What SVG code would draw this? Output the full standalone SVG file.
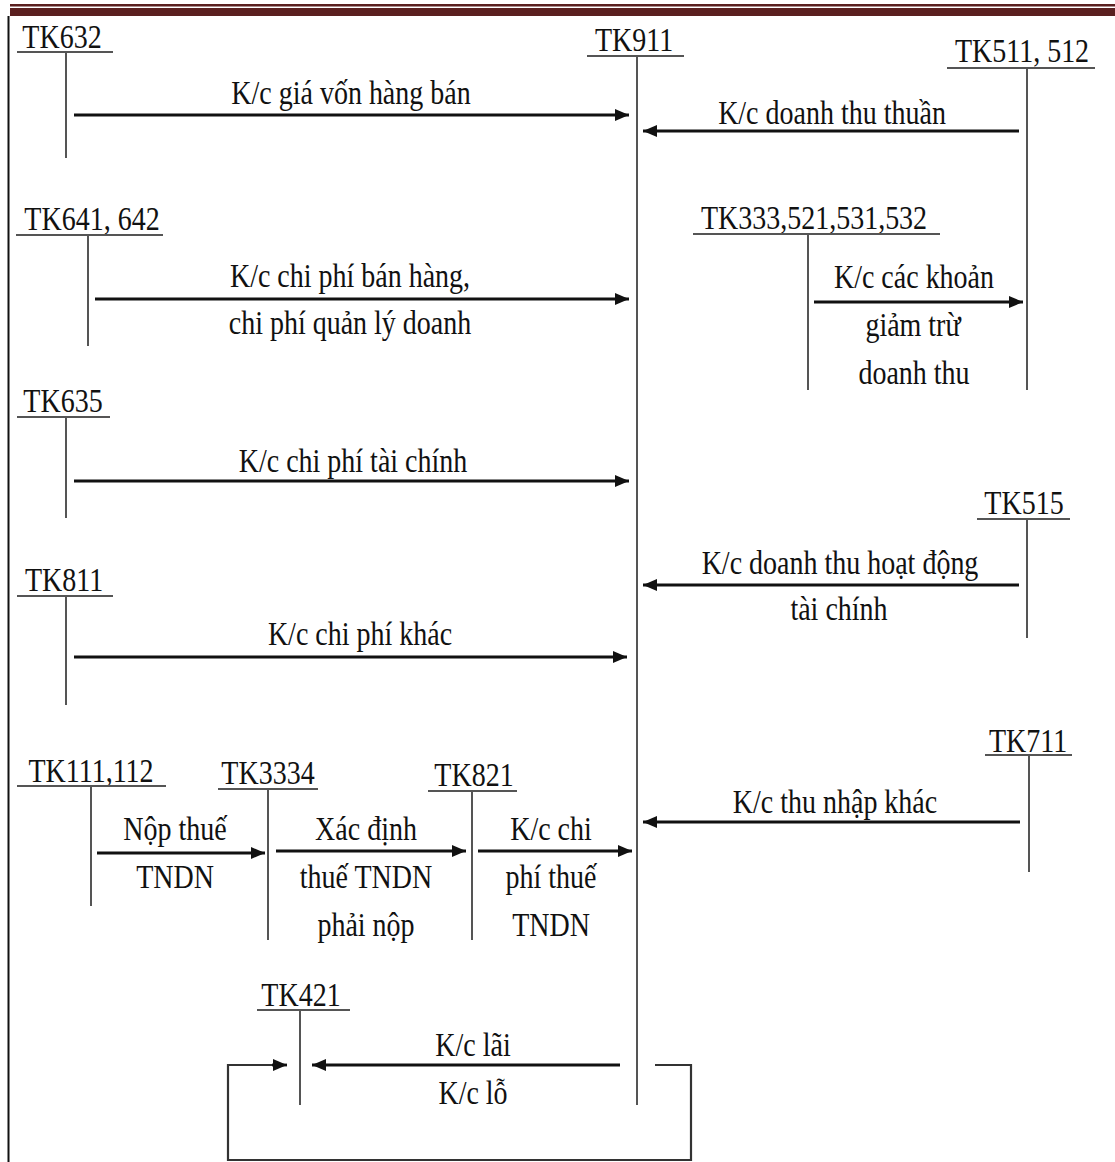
<svg xmlns="http://www.w3.org/2000/svg" width="1115" height="1162" viewBox="0 0 1115 1162">
<style>
  text { font-family: "Liberation Serif", Tinos, "Times New Roman", serif; font-size: 28px; fill: #111; text-anchor: middle; }
  .acc { stroke: #555; stroke-width: 2; fill: none; }
  .arr { stroke: #111; stroke-width: 2.8; fill: none; marker-end: url(#ah); }
  .loop { stroke: #333; stroke-width: 2.2; fill: none; }
</style>
<defs>
  <marker id="ah" markerUnits="userSpaceOnUse" markerWidth="14" markerHeight="12" refX="14" refY="6" orient="auto">
    <path d="M0,0 L14,6 L0,12 z" fill="#111"/>
  </marker>
</defs>
<rect x="0" y="0" width="1115" height="1162" fill="#fff"/>
<g id="frame">
  <rect x="10" y="4" width="1105" height="2.5" fill="#5a1f1f"/>
  <rect x="10" y="8" width="1105" height="8" fill="#5a1f1f"/>
  <line x1="8.5" y1="16" x2="8.5" y2="1162" stroke="#111" stroke-width="2"/>
</g>
<g id="tk632">
  <text transform="translate(62 48) scale(1 1.22)">TK632</text>
  <line class="acc" x1="17" y1="52" x2="113" y2="52"/>
  <line class="acc" x1="66" y1="52" x2="66" y2="158"/>
</g>
<g id="tk911">
  <text transform="translate(634 51) scale(1 1.22)">TK911</text>
  <line class="acc" x1="587" y1="56" x2="684" y2="56"/>
  <line class="acc" x1="637" y1="56" x2="637" y2="1105"/>
</g>
<g id="tk511">
  <text transform="translate(1022 62) scale(1 1.22)">TK511, 512</text>
  <line class="acc" x1="947" y1="68" x2="1095" y2="68"/>
  <line class="acc" x1="1027" y1="68" x2="1027" y2="390"/>
</g>
<g id="tk641">
  <text transform="translate(92 230) scale(1 1.22)">TK641, 642</text>
  <line class="acc" x1="16" y1="235" x2="163" y2="235"/>
  <line class="acc" x1="88" y1="235" x2="88" y2="346"/>
</g>
<g id="tk333">
  <text transform="translate(814 229) scale(1 1.22)">TK333,521,531,532</text>
  <line class="acc" x1="693" y1="234" x2="940" y2="234"/>
  <line class="acc" x1="808" y1="234" x2="808" y2="390"/>
</g>
<g id="tk635">
  <text transform="translate(63 412) scale(1 1.22)">TK635</text>
  <line class="acc" x1="17" y1="417" x2="110" y2="417"/>
  <line class="acc" x1="66" y1="417" x2="66" y2="518"/>
</g>
<g id="tk515">
  <text transform="translate(1024 514) scale(1 1.22)">TK515</text>
  <line class="acc" x1="977" y1="519" x2="1070" y2="519"/>
  <line class="acc" x1="1027" y1="519" x2="1027" y2="638"/>
</g>
<g id="tk811">
  <text transform="translate(64 591) scale(1 1.22)">TK811</text>
  <line class="acc" x1="17" y1="596" x2="113" y2="596"/>
  <line class="acc" x1="66" y1="596" x2="66" y2="705"/>
</g>
<g id="tk711">
  <text transform="translate(1028 752) scale(1 1.22)">TK711</text>
  <line class="acc" x1="985" y1="755" x2="1072" y2="755"/>
  <line class="acc" x1="1029" y1="755" x2="1029" y2="872"/>
</g>
<g id="tk111">
  <text transform="translate(91 782) scale(1 1.22)">TK111,112</text>
  <line class="acc" x1="17" y1="786" x2="166" y2="786"/>
  <line class="acc" x1="91" y1="786" x2="91" y2="906"/>
</g>
<g id="tk3334">
  <text transform="translate(268 784) scale(1 1.22)">TK3334</text>
  <line class="acc" x1="218" y1="789" x2="318" y2="789"/>
  <line class="acc" x1="268" y1="789" x2="268" y2="940"/>
</g>
<g id="tk821">
  <text transform="translate(474 786) scale(1 1.22)">TK821</text>
  <line class="acc" x1="428" y1="791" x2="517" y2="791"/>
  <line class="acc" x1="472" y1="791" x2="472" y2="940"/>
</g>
<g id="tk421">
  <text transform="translate(301 1006) scale(1 1.22)">TK421</text>
  <line class="acc" x1="257" y1="1010" x2="350" y2="1010"/>
  <line class="acc" x1="300" y1="1010" x2="300" y2="1105"/>
</g>
<g id="connectors">
  <line class="arr" x1="74" y1="115" x2="629" y2="115"/>
  <line class="arr" x1="1019" y1="131" x2="643" y2="131"/>
  <line class="arr" x1="95" y1="299" x2="629" y2="299"/>
  <line class="arr" x1="814" y1="302" x2="1023" y2="302"/>
  <line class="arr" x1="74" y1="481" x2="629" y2="481"/>
  <line class="arr" x1="1019" y1="585" x2="643" y2="585"/>
  <line class="arr" x1="74" y1="657" x2="627" y2="657"/>
  <line class="arr" x1="1020" y1="822" x2="643" y2="822"/>
  <line class="arr" x1="97" y1="853" x2="265" y2="853"/>
  <line class="arr" x1="276" y1="851" x2="466" y2="851"/>
  <line class="arr" x1="478" y1="851" x2="632" y2="851"/>
  <line class="arr" x1="620" y1="1065" x2="312" y2="1065"/>
  <path class="loop" d="M655,1065 H691 V1160 H228 V1065 H274"/>
  <line class="arr" x1="272" y1="1065" x2="287" y2="1065"/>
</g>
<g id="labels">
  <text transform="translate(351 104) scale(1 1.22)">K/c giá vốn hàng bán</text>
  <text transform="translate(832 124) scale(1 1.22)">K/c doanh thu thuần</text>
  <text transform="translate(350 287) scale(1 1.22)">K/c chi phí bán hàng,</text>
  <text transform="translate(350 334) scale(1 1.22)">chi phí quản lý doanh</text>
  <text transform="translate(914 288) scale(1 1.22)">K/c các khoản</text>
  <text transform="translate(913 336) scale(1 1.22)">giảm trừ</text>
  <text transform="translate(914 384) scale(1 1.22)">doanh thu</text>
  <text transform="translate(353 472) scale(1 1.22)">K/c chi phí tài chính</text>
  <text transform="translate(840 574) scale(1 1.22)">K/c doanh thu hoạt động</text>
  <text transform="translate(839 620) scale(1 1.22)">tài chính</text>
  <text transform="translate(360 645) scale(1 1.22)">K/c chi phí khác</text>
  <text transform="translate(835 813) scale(1 1.22)">K/c thu nhập khác</text>
  <text transform="translate(175 840) scale(1 1.22)">Nộp thuế</text>
  <text transform="translate(175 888) scale(1 1.22)">TNDN</text>
  <text transform="translate(366 840) scale(1 1.22)">Xác định</text>
  <text transform="translate(366 888) scale(1 1.22)">thuế TNDN</text>
  <text transform="translate(366 936) scale(1 1.22)">phải nộp</text>
  <text transform="translate(551 840) scale(1 1.22)">K/c chi</text>
  <text transform="translate(551 888) scale(1 1.22)">phí thuế</text>
  <text transform="translate(551 936) scale(1 1.22)">TNDN</text>
  <text transform="translate(473 1056) scale(1 1.22)">K/c lãi</text>
  <text transform="translate(473 1104) scale(1 1.22)">K/c lỗ</text>
</g>
</svg>
